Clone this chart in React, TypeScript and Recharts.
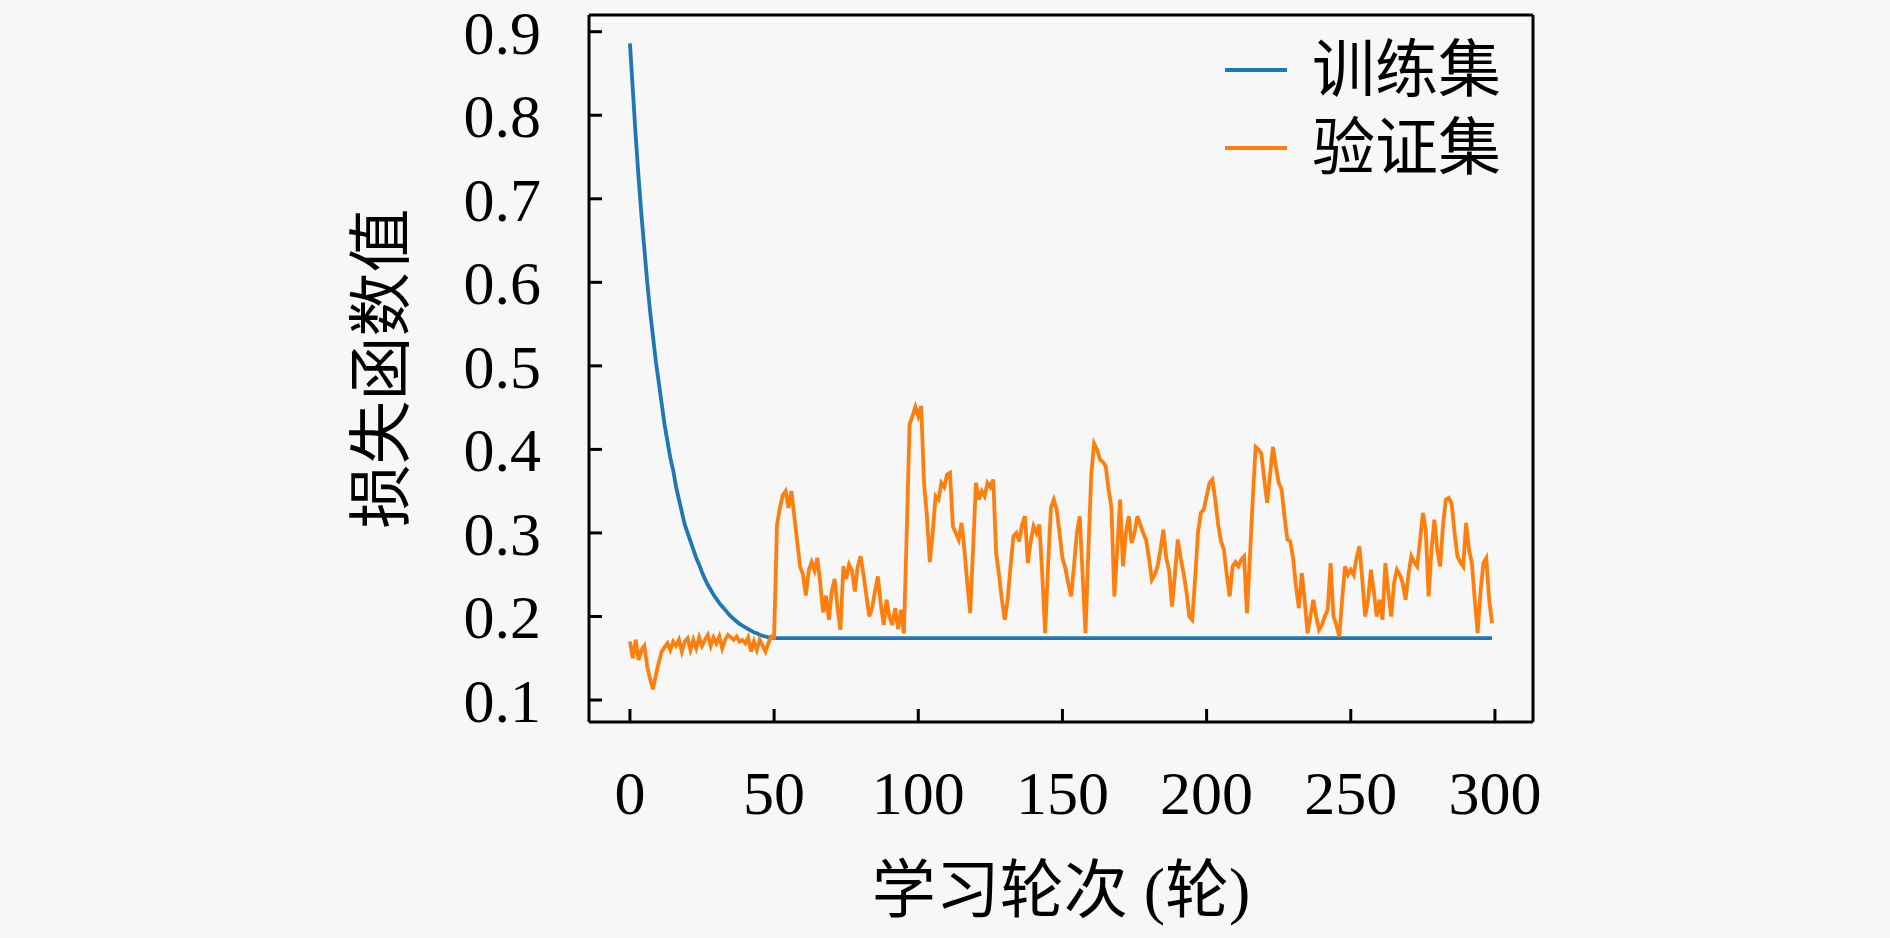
import { LineChart, Line, XAxis, YAxis, Legend, ReferenceLine, Label } from 'recharts'

// 训练集 loss, epochs 0..50 (after that it stays on the plateau)
const trainLoss = [
    0.886, 0.83, 0.775, 0.725, 0.68, 0.64, 0.6, 0.565, 0.535, 0.505,
    0.48, 0.455, 0.43, 0.41, 0.39, 0.375, 0.355, 0.34, 0.325, 0.31,
    0.3, 0.29, 0.28, 0.27, 0.262, 0.253, 0.245, 0.238, 0.232, 0.226,
    0.221, 0.216, 0.212, 0.208, 0.204, 0.2, 0.197, 0.194, 0.191, 0.189,
    0.187, 0.185, 0.183, 0.181, 0.18, 0.178, 0.177, 0.176, 0.175, 0.175,
    0.174,
]
const trainLossLast = 0.174

// 验证集 loss, epochs 0..299
const valLoss = [
    0.17, 0.15, 0.172, 0.148, 0.16, 0.165, 0.14, 0.125, 0.113, 0.13,
    0.145, 0.158, 0.163, 0.168, 0.16, 0.17, 0.165, 0.172, 0.158, 0.17,
    0.174, 0.16, 0.172, 0.162, 0.175, 0.165, 0.172, 0.178, 0.165, 0.175,
    0.168, 0.176, 0.162, 0.172, 0.178, 0.175, 0.172, 0.176, 0.17, 0.172,
    0.168, 0.175, 0.158, 0.17, 0.16, 0.172, 0.165, 0.158, 0.168, 0.176,
    0.175, 0.31, 0.33, 0.345, 0.35, 0.33, 0.35, 0.32, 0.29, 0.26,
    0.25, 0.225, 0.255, 0.265, 0.255, 0.27, 0.24, 0.205, 0.225, 0.196,
    0.23, 0.245, 0.21, 0.184, 0.26, 0.245, 0.262, 0.255, 0.23, 0.26,
    0.272, 0.25, 0.225, 0.2, 0.21, 0.23, 0.248, 0.215, 0.19, 0.22,
    0.2, 0.19, 0.21, 0.185, 0.208, 0.18, 0.3, 0.43, 0.44, 0.451,
    0.44, 0.452, 0.36, 0.32, 0.265, 0.3, 0.344, 0.34, 0.36, 0.355,
    0.37, 0.372, 0.308, 0.3, 0.292, 0.312, 0.28, 0.24, 0.204, 0.28,
    0.36, 0.34, 0.35, 0.344, 0.36, 0.355, 0.364, 0.276, 0.25, 0.22,
    0.196, 0.22, 0.26, 0.296, 0.3, 0.29, 0.31, 0.32, 0.264, 0.29,
    0.308, 0.3, 0.31, 0.25, 0.18, 0.26, 0.33, 0.34, 0.328, 0.3,
    0.27, 0.258, 0.24, 0.224, 0.26, 0.3, 0.32, 0.25, 0.18, 0.28,
    0.37, 0.407, 0.4, 0.388, 0.385, 0.38, 0.352, 0.33, 0.224, 0.28,
    0.34, 0.26, 0.3, 0.32, 0.288, 0.3, 0.32, 0.31, 0.3, 0.292,
    0.27, 0.244, 0.25, 0.26, 0.28, 0.304, 0.27, 0.255, 0.212, 0.25,
    0.292, 0.27, 0.252, 0.23, 0.2, 0.196, 0.244, 0.3, 0.324, 0.328,
    0.344, 0.36, 0.364, 0.34, 0.31, 0.29, 0.28, 0.25, 0.224, 0.26,
    0.265, 0.26, 0.268, 0.272, 0.204, 0.27, 0.34, 0.403, 0.4, 0.395,
    0.364, 0.336, 0.37, 0.403, 0.38, 0.36, 0.352, 0.32, 0.292, 0.29,
    0.27, 0.236, 0.21, 0.252, 0.22, 0.18, 0.2, 0.22, 0.2, 0.184,
    0.19, 0.2, 0.208, 0.264, 0.2, 0.19, 0.176, 0.22, 0.26, 0.25,
    0.256, 0.25, 0.27, 0.284, 0.244, 0.2, 0.22, 0.256, 0.23, 0.2,
    0.22, 0.196, 0.264, 0.23, 0.2, 0.24, 0.256, 0.25, 0.24, 0.22,
    0.25, 0.272, 0.265, 0.26, 0.29, 0.324, 0.304, 0.224, 0.28, 0.316,
    0.28, 0.26, 0.31, 0.34, 0.342, 0.335, 0.3, 0.272, 0.265, 0.26,
    0.312, 0.28, 0.264, 0.22, 0.18, 0.23, 0.264, 0.27, 0.22, 0.192,
]

const xTicks = [0, 50, 100, 150, 200, 250, 300]
const yTicks = [0.1, 0.2, 0.3, 0.4, 0.5, 0.6, 0.7, 0.8, 0.9]
const trainName = '训练集'
const valName = '验证集'
const xTitle = '学习轮次 (轮)'
const yTitle = '损失函数值'

const X_DOMAIN: [number, number] = [-14.2, 313.2]
const Y_DOMAIN: [number, number] = [0.0737, 0.92]

// Latin serif first (smaller line box), CJK glyphs fall back to Noto
const SERIF = "'Liberation Serif', 'Noto Sans CJK SC', serif"
const CJK = "'Noto Sans CJK SC', sans-serif"

const data = valLoss.map((val, epoch) => ({
    epoch,
    train: epoch < trainLoss.length
        ? trainLoss[epoch]
        : epoch === valLoss.length - 1 ? trainLossLast : null,
    val,
}))

const axisStroke = { stroke: '#000', strokeWidth: 3 }
const tickStyle = { fill: '#000', fontSize: 62, fontFamily: SERIF }

function renderLegend(props: any) {
    const { payload = [] } = props
    return (
        <div>
            {payload.map((entry: any) => (
                <div key={entry.value} style={{ display: 'flex', alignItems: 'center', height: 78 }}>
                    <svg width={62} height={6}>
                        <line x1={0} y1={3} x2={62} y2={3} stroke={entry.color} strokeWidth={3.8} />
                    </svg>
                    <span style={{ marginLeft: 25, fontSize: 63, lineHeight: '78px', fontFamily: SERIF, color: '#000' }}>
                        {entry.value}
                    </span>
                </div>
            ))}
        </div>
    )
}

export default function App() {
    return (
        <div style={{ position: 'fixed', top: 0, left: 0, width: 1890, height: 938, background: '#f7f7f7' }}>
            <LineChart width={1890} height={938} data={data} margin={{ top: 15, right: 357, left: 171, bottom: 16 }}>
                <XAxis
                    dataKey="epoch"
                    type="number"
                    domain={X_DOMAIN}
                    allowDataOverflow
                    ticks={xTicks}
                    interval={0}
                    height={200}
                    tickSize={-13}
                    tickMargin={61}
                    axisLine={axisStroke}
                    tickLine={axisStroke}
                    tick={tickStyle}
                >
                    <Label
                        value={xTitle}
                        position="insideBottom"
                        offset={10}
                        style={{ fill: '#000', fontSize: 64, fontFamily: SERIF }}
                    />
                </XAxis>
                <YAxis
                    type="number"
                    domain={Y_DOMAIN}
                    allowDataOverflow
                    ticks={yTicks}
                    interval={0}
                    width={418}
                    tickSize={-13}
                    tickMargin={61}
                    tickFormatter={(v: number) => v.toFixed(1)}
                    axisLine={axisStroke}
                    tickLine={axisStroke}
                    tick={tickStyle}
                >
                    <Label
                        value={yTitle}
                        angle={-90}
                        position="center"
                        style={{ fill: '#000', fontSize: 64, fontFamily: CJK, textAnchor: 'middle' }}
                    />
                </YAxis>
                <ReferenceLine y={Y_DOMAIN[1]} stroke="#000" strokeWidth={3} />
                <ReferenceLine x={X_DOMAIN[1]} stroke="#000" strokeWidth={3} />
                <Legend
                    layout="vertical"
                    align="center"
                    verticalAlign="middle"
                    content={renderLegend}
                    wrapperStyle={{ top: 31, left: 1225, width: 'auto' }}
                />
                <Line
                    dataKey="train"
                    name={trainName}
                    stroke="#1f77b4"
                    strokeWidth={3.8}
                    dot={false}
                    activeDot={false}
                    connectNulls
                    isAnimationActive={false}
                />
                <Line
                    dataKey="val"
                    name={valName}
                    stroke="#ff7f0e"
                    strokeWidth={3.8}
                    dot={false}
                    activeDot={false}
                    isAnimationActive={false}
                />
            </LineChart>
        </div>
    )
}
